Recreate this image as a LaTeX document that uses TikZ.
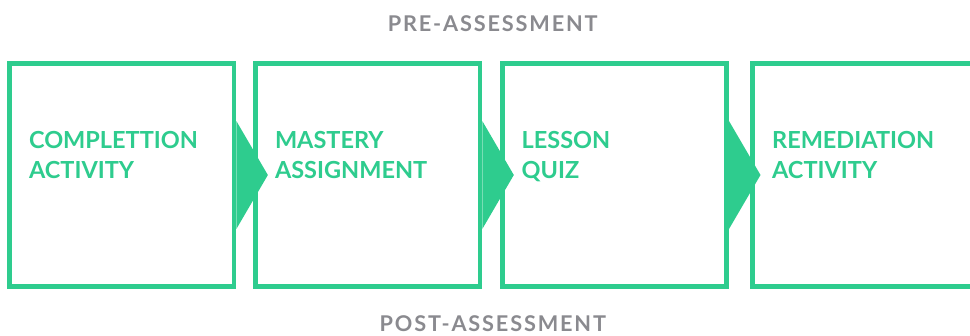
\documentclass[tikz,border=0pt]{standalone}
\usepackage{fontspec}
\newfontfamily\lblfont{Lato}
\newfontfamily\phasefont[LetterSpace=8.5]{Lato}
\definecolor{flowgreen}{RGB}{46,204,142}
\definecolor{labelgray}{RGB}{138,138,143}
\tikzset{
  stagebox/.style={draw=flowgreen, line width=4.7pt, minimum width=224.3pt, minimum height=223.5pt, inner sep=0pt, fill=white},
  stagetext/.style={text=flowgreen, font=\lblfont\bfseries\fontsize{23.5}{29.5}\selectfont, align=left, anchor=north west, inner sep=0pt},
  phasetext/.style={text=labelgray, font=\phasefont\bfseries\fontsize{21.7}{26}\selectfont, inner sep=0pt, text depth=0pt},
  flowtri/.style={fill=flowgreen}
}
\begin{document}
\begin{tikzpicture}[x=1pt,y=-1pt]
\useasboundingbox (0,0) rectangle (970,335);
\clip (0,0) rectangle (970,335);
\node[stagebox] (b1) at (121.85,175) {};
\node[stagebox] (b2) at (367.8,175) {};
\node[stagebox] (b3) at (614.5,175) {};
\node[stagebox] (b4) at (864.95,175) {};
\foreach \b in {b1,b2,b3}{
  \fill[flowtri] (\b.east) ++(0,-54) -- ++(31.5,54) -- ++(-31.5,54) -- cycle;
}
\node[stagetext] (t1) at ([xshift=21.5pt,yshift=-70.5pt]b1.north west) {COMPLETTION\\ACTIVITY};
\node[stagetext] (t2) at ([xshift=21.5pt,yshift=-70.5pt]b2.north west) {MASTERY\\ASSIGNMENT};
\node[stagetext] (t3) at ([xshift=21.5pt,yshift=-70.5pt]b3.north west) {LESSON\\QUIZ};
\node[stagetext] (t4) at ([xshift=21.5pt,yshift=-70.5pt]b4.north west) {REMEDIATION\\ACTIVITY};
\node[phasetext, anchor=base] (pre) at (492.7,31.7) {PRE-ASSESSMENT};
\node[phasetext, anchor=base] (post) at (492.8,331.5) {POST-ASSESSMENT};
\end{tikzpicture}
\end{document}
